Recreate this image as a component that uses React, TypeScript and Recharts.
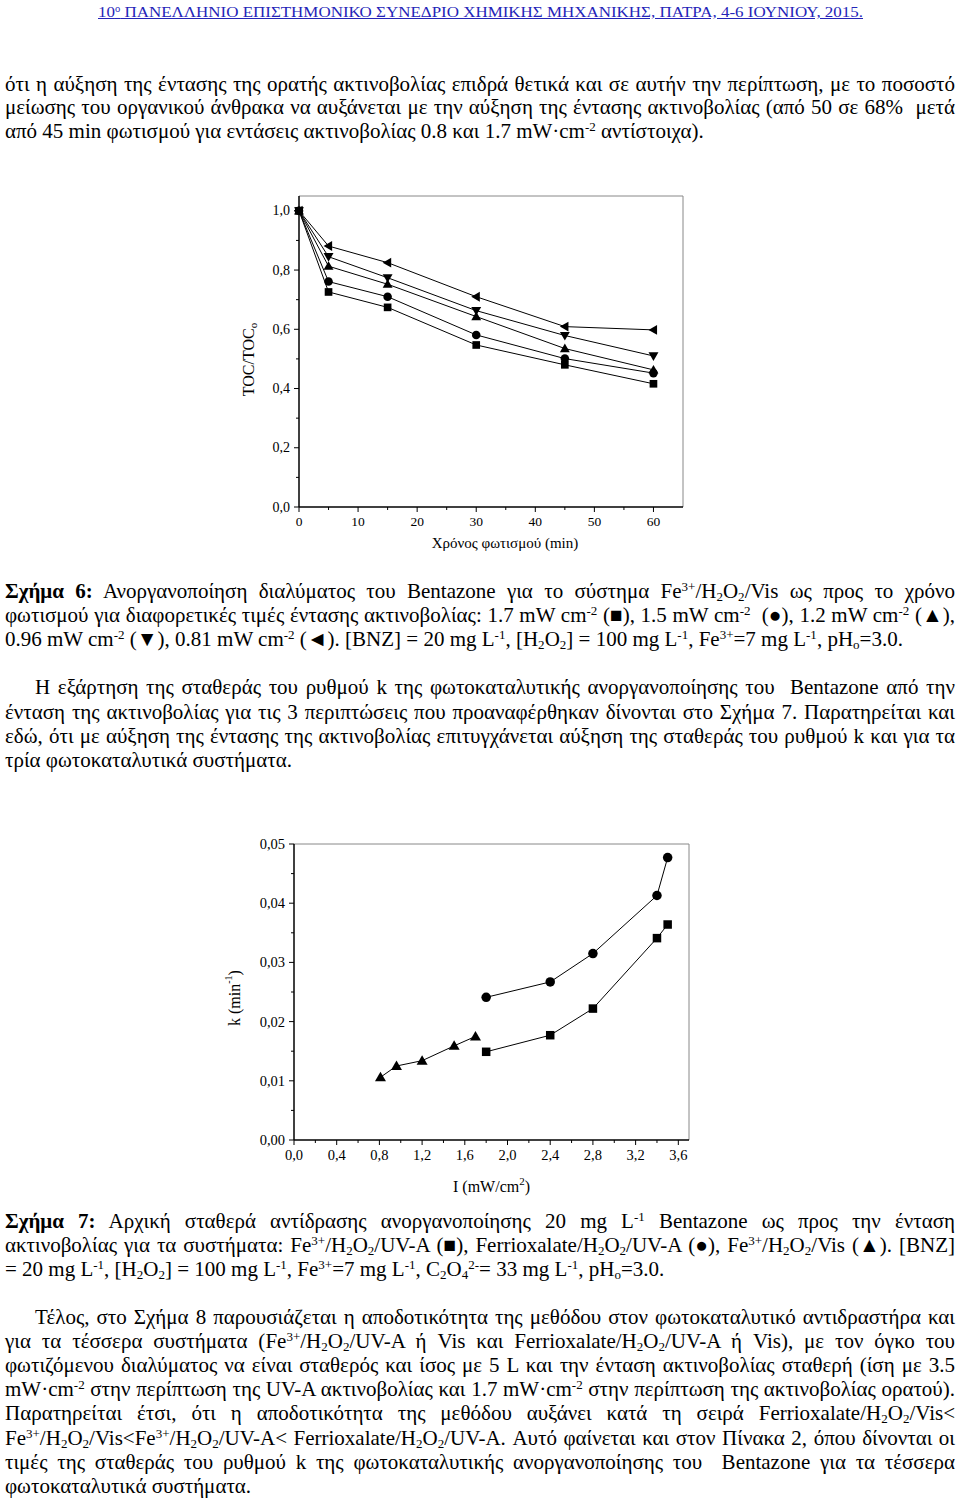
import React, { useLayoutEffect, useRef, useState } from 'react';
import { ScatterChart, Scatter, XAxis, YAxis, ReferenceLine } from 'recharts';

// ---------- Figure 6 data ----------
const timeMin = [0, 5, 15, 30, 45, 60];
const toc17 = [1, 0.726, 0.674, 0.547, 0.48, 0.416];
const toc15 = [1, 0.761, 0.71, 0.581, 0.501, 0.452];
const toc12 = [1, 0.813, 0.752, 0.643, 0.535, 0.463];
const toc096 = [1, 0.845, 0.774, 0.663, 0.579, 0.51];
const toc081 = [1, 0.881, 0.825, 0.71, 0.609, 0.598];
const fig6XTicks = [0, 5, 10, 15, 20, 25, 30, 35, 40, 45, 50, 55, 60];
const fig6YTicks = [0, 0.1, 0.2, 0.3, 0.4, 0.5, 0.6, 0.7, 0.8, 0.9, 1.0];

// ---------- Figure 7 data ----------
const intensityVis = [0.81, 0.96, 1.2, 1.5, 1.7];
const kFeVis = [0.0106, 0.0125, 0.0134, 0.0159, 0.0175];
const intensityUV = [1.8, 2.4, 2.8, 3.4, 3.5];
const kFeUV = [0.0149, 0.0177, 0.0222, 0.0341, 0.0364];
const kFerriUV = [0.0241, 0.0267, 0.0315, 0.0413, 0.0477];
const fig7XTicks = [0, 0.2, 0.4, 0.6, 0.8, 1.0, 1.2, 1.4, 1.6, 1.8, 2.0, 2.2, 2.4, 2.6, 2.8, 3.0, 3.2, 3.4, 3.6];
const fig7YTicks = [0, 0.005, 0.01, 0.015, 0.02, 0.025, 0.03, 0.035, 0.04, 0.045, 0.05];

const SERIF = '"Liberation Serif", "Times New Roman", serif';

const toPts = (xs: number[], ys: number[]) => xs.map((x, i) => ({ x, y: ys[i] }));

type Kind = 'square' | 'circle' | 'up' | 'down' | 'left';

function Marker({ kind, cx, cy, s }: { kind: Kind; cx: number; cy: number; s: number }) {
  if (cx == null || cy == null) return null;
  const h = s / 2;
  switch (kind) {
    case 'square':
      return <rect x={cx - h * 0.85} y={cy - h * 0.85} width={s * 0.85} height={s * 0.85} fill="#000" />;
    case 'circle':
      return <circle cx={cx} cy={cy} r={h * 0.95} fill="#000" />;
    case 'up':
      return <polygon points={`${cx},${cy - h * 1.1} ${cx - h * 1.1},${cy + h * 0.8} ${cx + h * 1.1},${cy + h * 0.8}`} fill="#000" />;
    case 'down':
      return <polygon points={`${cx},${cy + h * 1.1} ${cx - h * 1.1},${cy - h * 0.8} ${cx + h * 1.1},${cy - h * 0.8}`} fill="#000" />;
    case 'left':
      return <polygon points={`${cx - h * 1.1},${cy} ${cx + h * 0.8},${cy - h * 1.1} ${cx + h * 0.8},${cy + h * 1.1}`} fill="#000" />;
  }
  return null;
}

const shapeOf = (kind: Kind, s: number) => (p: any) => <Marker kind={kind} cx={p.cx} cy={p.cy} s={s} />;

function makeXTick(isMajor: (v: number) => boolean, fmt: (v: number) => string, fs: number, off: number) {
  return (p: any) => {
    const v = p.payload.value;
    const major = isMajor(v);
    return (
      <g>
        <line x1={p.x} y1={p.y} x2={p.x} y2={p.y + (major ? 5 : 3)} stroke="#000" strokeWidth={1} />
        {major && (
          <text x={p.x} y={p.y + off} textAnchor="middle" dominantBaseline="central" fontSize={fs} fontFamily={SERIF} fill="#000">
            {fmt(v)}
          </text>
        )}
      </g>
    );
  };
}

function makeYTick(isMajor: (v: number) => boolean, fmt: (v: number) => string, fs: number, off: number) {
  return (p: any) => {
    const v = p.payload.value;
    const major = isMajor(v);
    return (
      <g>
        <line x1={p.x} y1={p.y} x2={p.x - (major ? 5 : 3)} y2={p.y} stroke="#000" strokeWidth={1} />
        {major && (
          <text x={p.x - off} y={p.y} textAnchor="end" dominantBaseline="central" fontSize={fs} fontFamily={SERIF} fill="#000">
            {fmt(v)}
          </text>
        )}
      </g>
    );
  };
}

const fig6XTitle = (props: any) => {
  const vb = props.viewBox || {};
  return (
    <text x={vb.x + vb.width / 2 + 14} y={vb.y + 41} textAnchor="middle" fontSize={15} fontFamily={SERIF} fill="#000">
      Χρόνος φωτισμού (min)
    </text>
  );
};
const fig6YTitle = (props: any) => {
  const vb = props.viewBox || {};
  const x = vb.x + 9;
  const y = vb.y + vb.height / 2 + 8;
  return (
    <text x={x} y={y} transform={`rotate(-90, ${x}, ${y})`} textAnchor="middle" dominantBaseline="central" fontSize={16} fontFamily={SERIF} fill="#000">
      TOC/TOC<tspan dy={5} fontSize={11}>o</tspan>
    </text>
  );
};
const fig7XTitle = (props: any) => {
  const vb = props.viewBox || {};
  return (
    <text x={vb.x + vb.width / 2} y={vb.y + 52} textAnchor="middle" fontSize={16} fontFamily={SERIF} fill="#000">
      I (mW/cm<tspan dy={-7} fontSize={11}>2</tspan><tspan dy={7}>)</tspan>
    </text>
  );
};
const fig7YTitle = (props: any) => {
  const vb = props.viewBox || {};
  const x = vb.x;
  const y = vb.y + vb.height / 2 + 6;
  return (
    <text x={x} y={y} transform={`rotate(-90, ${x}, ${y})`} textAnchor="middle" dominantBaseline="central" fontSize={16} fontFamily={SERIF} fill="#000">
      k (min<tspan dy={-6} fontSize={10}>-1</tspan><tspan dy={6}>)</tspan>
    </text>
  );
};

function Figure6() {
  const isMajX = (v: number) => v % 10 === 0;
  const isMajY = (v: number) => Math.round(v * 10) % 2 === 0;
  const series: [number[], Kind][] = [
    [toc17, 'square'],
    [toc15, 'circle'],
    [toc12, 'up'],
    [toc096, 'down'],
    [toc081, 'left'],
  ];
  return (
    <ScatterChart width={520} height={390} margin={{ top: 16, right: 37, left: 39, bottom: 33 }}>
      <XAxis
        type="number"
        dataKey="x"
        domain={[0, 65]}
        ticks={fig6XTicks}
        interval={0}
        tickSize={0}
        tickMargin={0}
        tickLine={false}
        height={30}
        axisLine={{ stroke: '#000', strokeWidth: 1.5 }}
        tick={makeXTick(isMajX, (v) => String(v), 13.5, 14)}
        label={fig6XTitle}
      />
      <YAxis
        type="number"
        dataKey="y"
        domain={[0, 1.05]}
        ticks={fig6YTicks}
        interval={0}
        tickSize={0}
        tickMargin={0}
        tickLine={false}
        width={60}
        axisLine={{ stroke: '#000', strokeWidth: 1.5 }}
        tick={makeYTick(isMajY, (v) => v.toFixed(1).replace('.', ','), 14, 9)}
        label={fig6YTitle}
      />
      <ReferenceLine y={1.05} stroke="#888" strokeWidth={1} />
      <ReferenceLine x={65} stroke="#888" strokeWidth={1} />
      {series.map(([vals, kind], i) => (
        <Scatter
          key={i}
          data={toPts(timeMin, vals)}
          line={{ stroke: '#000', strokeWidth: 1 }}
          lineType="joint"
          fill="#000"
          shape={shapeOf(kind, 9)}
          isAnimationActive={false}
        />
      ))}
    </ScatterChart>
  );
}

function Figure7() {
  const isMajX = (v: number) => Math.round(v * 10) % 4 === 0;
  const isMajY = (v: number) => Math.round(v * 1000) % 10 === 0;
  return (
    <ScatterChart width={530} height={385} margin={{ top: 19, right: 31, left: 44, bottom: 40 }}>
      <XAxis
        type="number"
        dataKey="x"
        domain={[0, 3.7]}
        ticks={fig7XTicks}
        interval={0}
        tickSize={0}
        tickMargin={0}
        tickLine={false}
        height={30}
        axisLine={{ stroke: '#000', strokeWidth: 1.5 }}
        tick={makeXTick(isMajX, (v) => v.toFixed(1).replace('.', ','), 14.5, 15)}
        label={fig7XTitle}
      />
      <YAxis
        type="number"
        dataKey="y"
        domain={[0, 0.05]}
        ticks={fig7YTicks}
        interval={0}
        tickSize={0}
        tickMargin={0}
        tickLine={false}
        width={60}
        axisLine={{ stroke: '#000', strokeWidth: 1.5 }}
        tick={makeYTick(isMajY, (v) => v.toFixed(2).replace('.', ','), 14.5, 9)}
        label={fig7YTitle}
      />
      <ReferenceLine y={0.05} stroke="#888" strokeWidth={1} />
      <ReferenceLine x={3.7} stroke="#888" strokeWidth={1} />
      <Scatter data={toPts(intensityUV, kFeUV)} line={{ stroke: '#000', strokeWidth: 1 }} lineType="joint" fill="#000" shape={shapeOf('square', 10)} isAnimationActive={false} />
      <Scatter data={toPts(intensityUV, kFerriUV)} line={{ stroke: '#000', strokeWidth: 1 }} lineType="joint" fill="#000" shape={shapeOf('circle', 10)} isAnimationActive={false} />
      <Scatter data={toPts(intensityVis, kFeVis)} line={{ stroke: '#000', strokeWidth: 1 }} lineType="joint" fill="#000" shape={shapeOf('up', 10)} isAnimationActive={false} />
    </ScatterChart>
  );
}

const Sup = ({ children }: { children: React.ReactNode }) => (
  <sup style={{ fontSize: '0.62em', verticalAlign: '0.55em', lineHeight: 0 }}>{children}</sup>
);
const Sub = ({ children }: { children: React.ReactNode }) => (
  <sub style={{ fontSize: '0.62em', verticalAlign: '-0.2em', lineHeight: 0 }}>{children}</sub>
);
const H2O2 = () => (
  <>
    H<Sub>2</Sub>O<Sub>2</Sub>
  </>
);
const Fe3 = () => (
  <>
    Fe<Sup>3+</Sup>
  </>
);

// A single line of text: 'justify' spreads words to fill the width, 'scale' stretches to fill, 'left' is natural.
function FitLine({
  left,
  top,
  width,
  mode,
  style,
  innerStyle,
  children,
}: {
  left: number;
  top: number;
  width: number;
  mode: 'justify' | 'scale' | 'left';
  style?: React.CSSProperties;
  innerStyle?: React.CSSProperties;
  children: React.ReactNode;
}) {
  const ref = useRef<HTMLSpanElement>(null);
  const [ws, setWs] = useState(0);
  const [sx, setSx] = useState(1);
  useLayoutEffect(() => {
    const el = ref.current;
    if (!el) return;
    const w = el.getBoundingClientRect().width;
    if (mode === 'justify') {
      const n = ((el.textContent || '').match(/[ \u00A0]/g) || []).length;
      if (n > 0) setWs((width - w) / n);
    } else if (mode === 'scale') {
      if (w > 0) setSx(width / w);
    }
  }, []);
  return (
    <div style={{ position: 'absolute', left, top, whiteSpace: 'nowrap', ...style }}>
      <span
        ref={ref}
        style={{
          display: 'inline-block',
          wordSpacing: ws,
          transform: sx !== 1 ? `scaleX(${sx})` : undefined,
          transformOrigin: 'left center',
          ...innerStyle,
        }}
      >
        {children}
      </span>
    </div>
  );
}

const bodyStyle: React.CSSProperties = { fontSize: 21, lineHeight: '24px' };

function TL({ c, j = true, indent = false, children }: { c: number; j?: boolean; indent?: boolean; children: React.ReactNode }) {
  const left = indent ? 35 : 5;
  return (
    <FitLine left={left} top={c - 13} width={955 - left} mode={j ? 'justify' : 'left'} style={bodyStyle}>
      {children}
    </FitLine>
  );
}

export default function App() {
  return (
    <div
      style={{
        position: 'absolute',
        left: 0,
        top: 0,
        width: 960,
        height: 1501,
        background: '#fff',
        color: '#000',
        fontFamily: SERIF,
        overflow: 'hidden',
      }}
    >
      <FitLine
        left={98}
        top={3}
        width={765}
        mode="scale"
        style={{ fontSize: 15, lineHeight: '18px', color: '#2424b8' }}
        innerStyle={{ textDecoration: 'underline' }}
      >
        10<Sup>ο</Sup> ΠΑΝΕΛΛΗΝΙΟ ΕΠΙΣΤΗΜΟΝΙΚΟ ΣΥΝΕΔΡΙΟ ΧΗΜΙΚΗΣ ΜΗΧΑΝΙΚΗΣ, ΠΑΤΡΑ, 4-6 ΙΟΥΝΙΟΥ, 2015.
      </FitLine>

      <TL c={85}>ότι η αύξηση της έντασης της ορατής ακτινοβολίας επιδρά θετικά και σε αυτήν την περίπτωση, με το ποσοστό</TL>
      <TL c={108}>μείωσης του οργανικού άνθρακα να αυξάνεται με την αύξηση της έντασης ακτινοβολίας (από 50 σε 68%&nbsp; μετά</TL>
      <TL c={132} j={false}>
        από 45 min φωτισμού για εντάσεις ακτινοβολίας 0.8 και 1.7 mW·cm<Sup>-2</Sup> αντίστοιχα).
      </TL>

      <div style={{ position: 'absolute', left: 200, top: 180 }}>
        <Figure6 />
      </div>

      <TL c={592}>
        <b>Σχήμα 6:</b> Ανοργανοποίηση διαλύματος του Bentazone για το σύστημα <Fe3 />/<H2O2 />/Vis ως προς το χρόνο
      </TL>
      <TL c={616}>
        φωτισμού για διαφορετικές τιμές έντασης ακτινοβολίας: 1.7 mW cm<Sup>-2</Sup> (■), 1.5 mW cm<Sup>-2</Sup>&nbsp; (●), 1.2 mW cm<Sup>-2</Sup> (▲),
      </TL>
      <TL c={640} j={false}>
        0.96 mW cm<Sup>-2</Sup> (▼), 0.81 mW cm<Sup>-2</Sup> (◄). [BNZ] = 20 mg L<Sup>-1</Sup>, [<H2O2 />] = 100 mg L<Sup>-1</Sup>, <Fe3 />=7 mg L<Sup>-1</Sup>, pH<Sub>o</Sub>=3.0.
      </TL>

      <TL c={688} indent>
        Η εξάρτηση της σταθεράς του ρυθμού k της φωτοκαταλυτικής ανοργανοποίησης του&nbsp; Bentazone από την
      </TL>
      <TL c={713}>ένταση της ακτινοβολίας για τις 3 περιπτώσεις που προαναφέρθηκαν δίνονται στο Σχήμα 7. Παρατηρείται και</TL>
      <TL c={737}>εδώ, ότι με αύξηση της έντασης της ακτινοβολίας επιτυγχάνεται αύξηση της σταθεράς του ρυθμού k και για τα</TL>
      <TL c={761} j={false}>τρία φωτοκαταλυτικά συστήματα.</TL>

      <div style={{ position: 'absolute', left: 190, top: 825 }}>
        <Figure7 />
      </div>

      <TL c={1222}>
        <b>Σχήμα 7:</b> Αρχική σταθερά αντίδρασης ανοργανοποίησης 20 mg L<Sup>-1</Sup> Bentazone ως προς την ένταση
      </TL>
      <TL c={1246}>
        ακτινοβολίας για τα συστήματα: <Fe3 />/<H2O2 />/UV-A (■), Ferrioxalate/<H2O2 />/UV-A (●), <Fe3 />/<H2O2 />/Vis (▲). [BNZ]
      </TL>
      <TL c={1270} j={false}>
        = 20 mg L<Sup>-1</Sup>, [<H2O2 />] = 100 mg L<Sup>-1</Sup>, <Fe3 />=7 mg L<Sup>-1</Sup>, C<Sub>2</Sub>O<Sub>4</Sub>
        <Sup>2-</Sup>= 33 mg L<Sup>-1</Sup>, pH<Sub>o</Sub>=3.0.
      </TL>

      <TL c={1318} indent>
        Τέλος, στο Σχήμα 8 παρουσιάζεται η αποδοτικότητα της μεθόδου στον φωτοκαταλυτικό αντιδραστήρα και
      </TL>
      <TL c={1342}>
        για τα τέσσερα συστήματα (<Fe3 />/<H2O2 />/UV-A ή Vis και Ferrioxalate/<H2O2 />/UV-A ή Vis), με τον όγκο του
      </TL>
      <TL c={1366}>
        φωτιζόμενου διαλύματος να είναι σταθερός και ίσος με 5 L και την ένταση ακτινοβολίας σταθερή (ίση με 3.5
      </TL>
      <TL c={1390}>
        mW·cm<Sup>-2</Sup> στην περίπτωση της UV-A ακτινοβολίας και 1.7 mW·cm<Sup>-2</Sup> στην περίπτωση της ακτινοβολίας ορατού).
      </TL>
      <TL c={1414}>
        Παρατηρείται έτσι, ότι η αποδοτικότητα της μεθόδου αυξάνει κατά τη σειρά Ferrioxalate/<H2O2 />/Vis{'<'}
      </TL>
      <TL c={1439}>
        <Fe3 />/<H2O2 />/Vis{'<'}
        <Fe3 />/<H2O2 />/UV-A{'<'} Ferrioxalate/<H2O2 />/UV-A. Αυτό φαίνεται και στον Πίνακα 2, όπου δίνονται οι
      </TL>
      <TL c={1463}>
        τιμές της σταθεράς του ρυθμού k της φωτοκαταλυτικής ανοργανοποίησης του&nbsp; Bentazone για τα τέσσερα
      </TL>
      <TL c={1487} j={false}>φωτοκαταλυτικά συστήματα.</TL>
    </div>
  );
}
